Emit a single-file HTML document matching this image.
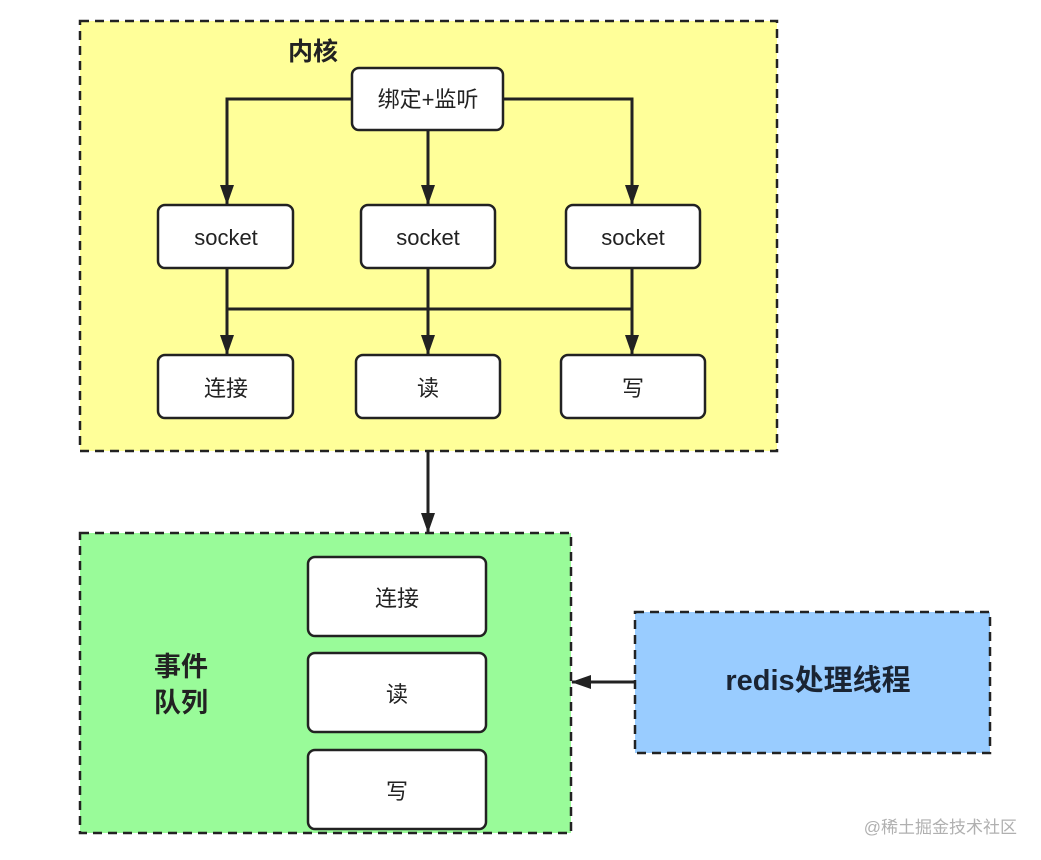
<!DOCTYPE html>
<html><head><meta charset="utf-8"><style>
html,body{margin:0;padding:0;background:#fff;}
svg{display:block}
text{font-family:"Liberation Sans","Noto Sans CJK SC",sans-serif;fill:#222}
</style></head><body>
<svg width="1041" height="860" viewBox="0 0 1041 860" xmlns="http://www.w3.org/2000/svg">
<defs>
<marker id="a" markerWidth="20" markerHeight="14" refX="19" refY="7" orient="auto" markerUnits="userSpaceOnUse">
<path d="M0,0 L20,7 L0,14 z" fill="#222"/>
</marker>
</defs>
<rect x="80" y="21" width="697" height="430" fill="#ffff99" stroke="#222" stroke-width="2.5" stroke-dasharray="9,6"/>
<rect x="80" y="533" width="491" height="300" fill="#99fb99" stroke="#222" stroke-width="2.5" stroke-dasharray="9,6"/>
<rect x="635" y="612" width="355" height="141" fill="#99ccff" stroke="#222" stroke-width="2.5" stroke-dasharray="9,6"/>

<text x="313" y="60" font-size="25" font-weight="bold" text-anchor="middle">内核</text>

<g stroke="#222" stroke-width="3" fill="none">
<path d="M352,99 H227 V204" marker-end="url(#a)"/>
<path d="M503,99 H632 V204" marker-end="url(#a)"/>
<path d="M428,130 V204" marker-end="url(#a)"/>
<path d="M227,268 V354" marker-end="url(#a)"/>
<path d="M428,268 V354" marker-end="url(#a)"/>
<path d="M632,268 V354" marker-end="url(#a)"/>
<path d="M227,309 H632"/>
<path d="M428,451 V532" marker-end="url(#a)"/>
<path d="M635,682 H572" marker-end="url(#a)"/>
</g>

<g fill="#fff" stroke="#222" stroke-width="2.5">
<rect x="352" y="68" width="151" height="62" rx="7"/>
<rect x="158" y="205" width="135" height="63" rx="7"/>
<rect x="361" y="205" width="134" height="63" rx="7"/>
<rect x="566" y="205" width="134" height="63" rx="7"/>
<rect x="158" y="355" width="135" height="63" rx="7"/>
<rect x="356" y="355" width="144" height="63" rx="7"/>
<rect x="561" y="355" width="144" height="63" rx="7"/>
<rect x="308" y="557" width="178" height="79" rx="7"/>
<rect x="308" y="653" width="178" height="79" rx="7"/>
<rect x="308" y="750" width="178" height="79" rx="7"/>
</g>

<g font-size="22" text-anchor="middle">
<text x="428" y="107">绑定+监听</text>
<text x="226" y="245">socket</text>
<text x="428" y="245">socket</text>
<text x="633" y="245">socket</text>
<text x="226" y="396">连接</text>
<text x="428" y="396">读</text>
<text x="633" y="396">写</text>
<text x="397" y="606">连接</text>
<text x="397" y="702">读</text>
<text x="397" y="799">写</text>
</g>
<text x="181" y="676" font-size="27" font-weight="bold" text-anchor="middle">事件</text>
<text x="181" y="712" font-size="27" font-weight="bold" text-anchor="middle">队列</text>
<text x="818" y="690" font-size="29" font-weight="bold" text-anchor="middle" style="fill:#1a2433">redis处理线程</text>
<text x="1017" y="833" font-size="17" text-anchor="end" style="fill:#b0b0b0">@稀土掘金技术社区</text>
</svg>
</body></html>
